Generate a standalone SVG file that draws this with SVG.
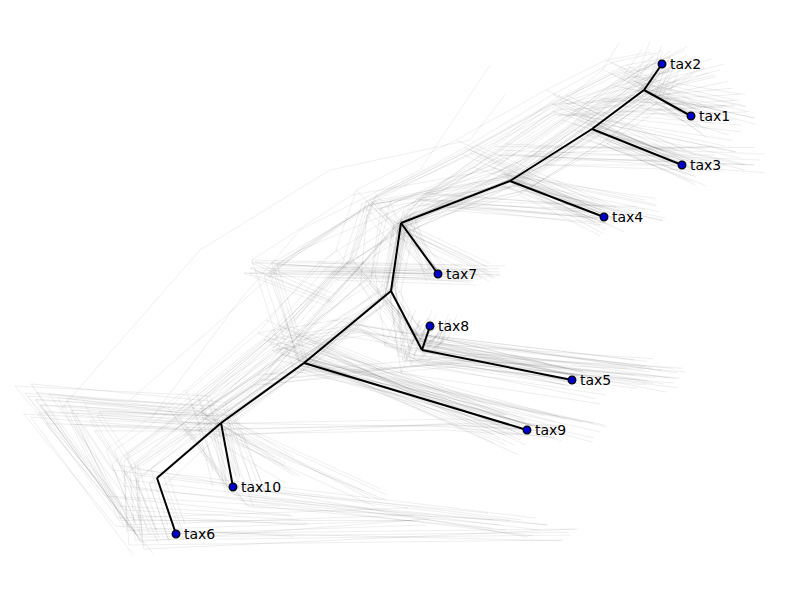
<svg xmlns="http://www.w3.org/2000/svg" xmlns:xlink="http://www.w3.org/1999/xlink" width="800" height="600" viewBox="0 0 800 600">
<style>
.cloud use,.cloud path{fill:none;stroke:#333;stroke-opacity:.1;stroke-width:.8}
.edge{fill:none;stroke:#000;stroke-width:2;stroke-linejoin:round}
.tip{fill:#0000cc;stroke:#000;stroke-width:1.3}
.lab{font-family:"DejaVu Sans",sans-serif;font-size:14px;fill:#000}
</style>
<defs>
<path id="v0" d="M157,478 L176,534 M157,478 L221,423 L233,487 M221,423 L304,363 L527,430 M304,363 L391,291 L422,350 L430,326 M422,350 L572,380 M391,291 L401,223 L438,274 M401,223 L510,181 L604,217 M510,181 L592,129 L682,165 M592,129 L644,90 L662,64 M644,90 L691,116"/>
<path id="v1" d="M40,405 L140,540 M40,405 L205,418 L290,470 M205,418 L295,355 L560,428 M295,355 L385,296 L425,345 L445,330 M425,345 L650,372 M385,296 L398,228 L490,272 M398,228 L508,180 L660,212 M508,180 L590,126 L740,158 M590,126 L642,88 L700,62 M642,88 L750,112"/>
<path id="v2" d="M90,420 L130,480 L540,530 M90,420 L215,425 L380,500 M215,425 L300,365 L600,432 M300,365 L270,270 L480,275 M270,270 L370,205 L510,180 L620,220 M510,180 L580,130 L700,170 M580,130 L630,95 L680,60 M630,95 L720,118 M300,365 L350,330 L440,345 L450,320 M440,345 L670,378"/>
<path id="v3" d="M35,400 L125,510 L300,520 M35,400 L230,410 L260,490 M230,410 L320,350 L520,440 M320,350 L395,285 L405,360 L420,320 M405,360 L600,390 M395,285 L410,215 L430,270 M410,215 L520,185 L600,225 M520,185 L600,135 L690,172 M600,135 L655,95 L670,55 M655,95 L700,125"/>
<path id="v4" d="M130,470 L135,540 L570,535 M130,470 L190,430 L450,425 L560,432 M190,430 L260,380 L480,360 L680,378 M260,380 L330,300 L250,268 L500,272 M330,300 L420,200 L640,215 M420,200 L500,150 L760,160 M500,150 L560,110 L720,70 M560,110 L740,100"/>
<path id="v5" d="M120,460 L150,535 M120,460 L200,400 L230,480 M200,400 L280,330 L520,425 M280,330 L350,260 L420,340 L430,320 M420,340 L580,378 M350,260 L370,200 L440,272 M370,200 L470,150 L610,212 M470,150 L560,100 L690,160 M560,100 L620,70 L665,62 M620,70 L700,112"/>
<path id="v6" d="M70,410 L130,530 L420,520 M70,410 L180,420 L240,500 L500,525 M180,420 L270,345 L500,440 M270,345 L330,275 L470,280 M330,275 L440,205 L600,218 M440,205 L540,160 L720,160 M540,160 L610,110 L670,70 M610,110 L735,120 M270,345 L360,330 L420,360 L440,330 M420,360 L640,380"/>
</defs>
<g class="cloud">
<use xlink:href="#v0"/><use xlink:href="#v0" transform="translate(6,-4)"/><use xlink:href="#v0" transform="translate(-8,5)"/><use xlink:href="#v0" transform="rotate(2 400 300)"/><use xlink:href="#v0" transform="rotate(-2 400 300)"/><use xlink:href="#v0" transform="translate(14,6) scale(.97)"/><use xlink:href="#v0" transform="translate(-12,-8) scale(1.03)"/><use xlink:href="#v0" transform="translate(-20,-15)"/><use xlink:href="#v0" transform="translate(-30,-8) rotate(-3 400 300)"/>
<use xlink:href="#v1"/><use xlink:href="#v1" transform="translate(5,6)"/><use xlink:href="#v1" transform="translate(-4,-6)"/><use xlink:href="#v1" transform="rotate(2 400 300)"/><use xlink:href="#v1" transform="rotate(-3 400 300)"/><use xlink:href="#v1" transform="translate(10,-3) scale(.98)"/><use xlink:href="#v1" transform="translate(-10,4) scale(1.02)"/><use xlink:href="#v1" transform="translate(-15,-12)"/>
<use xlink:href="#v2"/><use xlink:href="#v2" transform="translate(7,-5)"/><use xlink:href="#v2" transform="translate(-6,6)"/><use xlink:href="#v2" transform="rotate(3 400 300)"/><use xlink:href="#v2" transform="rotate(-2 400 300)"/><use xlink:href="#v2" transform="translate(12,4) scale(.97)"/><use xlink:href="#v2" transform="translate(-18,-10)"/>
<use xlink:href="#v3"/><use xlink:href="#v3" transform="translate(6,5)"/><use xlink:href="#v3" transform="translate(-7,-4)"/><use xlink:href="#v3" transform="rotate(2.5 400 300)"/><use xlink:href="#v3" transform="rotate(-2 400 300)"/><use xlink:href="#v3" transform="translate(-12,6) scale(1.02)"/><use xlink:href="#v3" transform="translate(-20,-14)"/>
<use xlink:href="#v4"/><use xlink:href="#v4" transform="translate(5,-6)"/><use xlink:href="#v4" transform="translate(-6,5)"/><use xlink:href="#v4" transform="rotate(2 400 300)"/><use xlink:href="#v4" transform="rotate(-2 400 300)"/><use xlink:href="#v4" transform="translate(10,8) scale(.98)"/>
<use xlink:href="#v5"/><use xlink:href="#v5" transform="translate(6,-5)"/><use xlink:href="#v5" transform="translate(-8,4)"/><use xlink:href="#v5" transform="rotate(2 400 300)"/><use xlink:href="#v5" transform="rotate(-2 400 300)"/><use xlink:href="#v5" transform="translate(-14,-10)"/><use xlink:href="#v5" transform="translate(10,6) scale(.98)"/>
<use xlink:href="#v6"/><use xlink:href="#v6" transform="translate(6,5)"/><use xlink:href="#v6" transform="translate(-6,-5)"/><use xlink:href="#v6" transform="rotate(2 400 300)"/><use xlink:href="#v6" transform="rotate(-2.5 400 300)"/><use xlink:href="#v6" transform="translate(-12,-12)"/>
<path d="M150,420 L240,300 L300,230 L420,170 L490,65 M60,410 L200,250 L330,170 L470,140 L505,95 M130,400 L210,330 L300,250 L420,200 L560,95"/>
</g>
<g id="connectors" class="edge">
<path d="M157,478 L176,534"/>
<path d="M157,478 L221,423"/>
<path d="M221,423 L233,487"/>
<path d="M221,423 L304,363"/>
<path d="M304,363 L527,430"/>
<path d="M304,363 L391,291"/>
<path d="M391,291 L422,350"/>
<path d="M422,350 L430,326"/>
<path d="M422,350 L572,380"/>
<path d="M391,291 L401,223"/>
<path d="M401,223 L438,274"/>
<path d="M401,223 L510,181"/>
<path d="M510,181 L604,217"/>
<path d="M510,181 L592,129"/>
<path d="M592,129 L682,165"/>
<path d="M592,129 L644,90"/>
<path d="M644,90 L662,64"/>
<path d="M644,90 L691,116"/>
</g>
<g id="tax2"><circle class="tip" cx="662" cy="64" r="3.8"/><text class="lab" x="670" y="69">tax2</text></g>
<g id="tax1"><circle class="tip" cx="691" cy="116" r="3.8"/><text class="lab" x="699" y="121">tax1</text></g>
<g id="tax3"><circle class="tip" cx="682" cy="165" r="3.8"/><text class="lab" x="690" y="170">tax3</text></g>
<g id="tax4"><circle class="tip" cx="604" cy="217" r="3.8"/><text class="lab" x="612" y="222">tax4</text></g>
<g id="tax7"><circle class="tip" cx="438" cy="274" r="3.8"/><text class="lab" x="446" y="279">tax7</text></g>
<g id="tax8"><circle class="tip" cx="430" cy="326" r="3.8"/><text class="lab" x="438" y="331">tax8</text></g>
<g id="tax5"><circle class="tip" cx="572" cy="380" r="3.8"/><text class="lab" x="580" y="385">tax5</text></g>
<g id="tax9"><circle class="tip" cx="527" cy="430" r="3.8"/><text class="lab" x="535" y="435">tax9</text></g>
<g id="tax10"><circle class="tip" cx="233" cy="487" r="3.8"/><text class="lab" x="241" y="492">tax10</text></g>
<g id="tax6"><circle class="tip" cx="176" cy="534" r="3.8"/><text class="lab" x="184" y="539">tax6</text></g>
</svg>
